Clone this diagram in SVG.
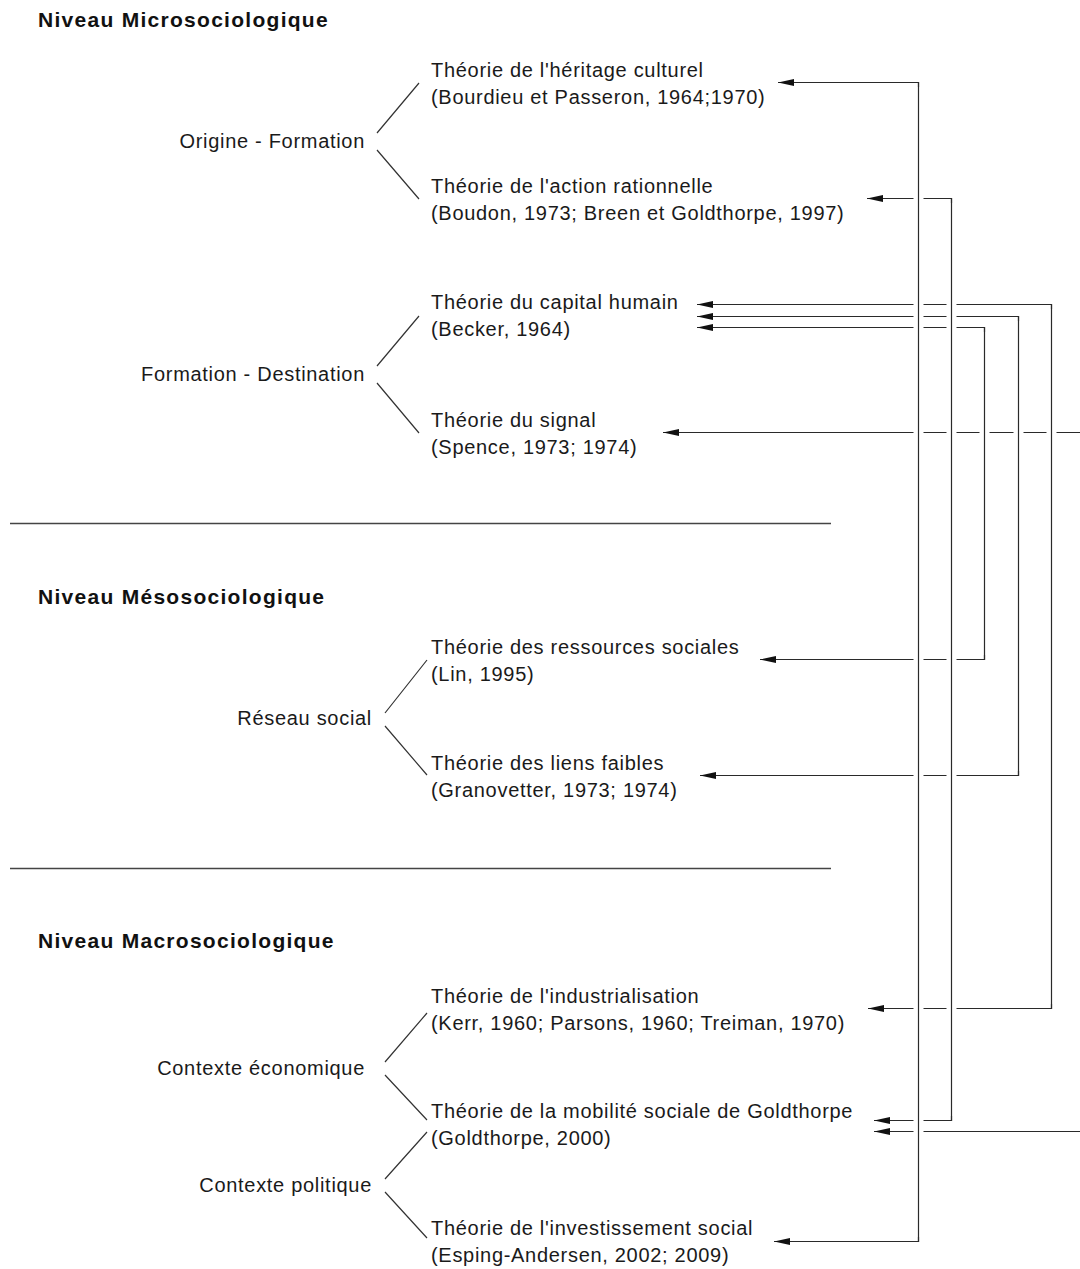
<svg xmlns="http://www.w3.org/2000/svg" width="1080" height="1269" viewBox="0 0 1080 1269">
<style>
  .t { font-family: "Liberation Sans", Arial, sans-serif; font-size: 20px; letter-spacing: 0.7px; fill: #1a1a1a; }
  .lbl { text-anchor: end; }
  .h { font-family: "Liberation Sans", Arial, sans-serif; font-size: 21px; font-weight: bold; letter-spacing: 1.28px; fill: #111; }
  .br { stroke: #333; stroke-width: 1.2; fill: none; }
  .sep { stroke: #444; stroke-width: 1.3; fill: none; }
  .c { stroke: #2a2a2a; stroke-width: 1.2; fill: none; }
  .halo { stroke: #fff; stroke-width: 10; fill: none; }
</style>
<defs>
  <marker id="arr" viewBox="0 0 16 7" refX="16" refY="3.5" markerWidth="16" markerHeight="7" markerUnits="userSpaceOnUse" orient="auto-start-reverse">
    <path d="M0,0 L16,3.5 L0,7 z" fill="#111"/>
  </marker>
</defs>
<rect width="1080" height="1269" fill="#fff"/>

<g id="levels">
  <text class="h" x="38" y="27">Niveau Microsociologique</text>
  <text class="h" x="38" y="604">Niveau Mésosociologique</text>
  <text class="h" x="38" y="948">Niveau Macrosociologique</text>
  <line class="sep" x1="10" y1="523.5" x2="831" y2="523.5"/>
  <line class="sep" x1="10" y1="868.5" x2="831" y2="868.5"/>
</g>

<g id="origine-formation">
  <text class="t lbl" x="365" y="148">Origine - Formation</text>
  <path class="br" d="M377,133 L419,83 M377,150 L419,199"/>
</g>
<g id="formation-destination">
  <text class="t lbl" x="365" y="381">Formation - Destination</text>
  <path class="br" d="M377,366 L419,316 M377,383 L419,433"/>
</g>
<g id="reseau-social">
  <text class="t lbl" x="372" y="725">Réseau social</text>
  <path class="br" d="M385,713 L427,660 M385,726 L427,775"/>
</g>
<g id="contexte-economique">
  <text class="t lbl" x="365" y="1075">Contexte économique</text>
  <path class="br" d="M385,1062 L427,1013 M385,1075 L427,1120"/>
</g>
<g id="contexte-politique">
  <text class="t lbl" x="372" y="1192">Contexte politique</text>
  <path class="br" d="M385,1179 L427,1132 M385,1192 L427,1238"/>
</g>

<g id="heritage-culturel">
  <text class="t" x="431" y="77">Théorie de l'héritage culturel</text>
  <text class="t" x="431" y="104">(Bourdieu et Passeron, 1964;1970)</text>
</g>
<g id="action-rationnelle">
  <text class="t" x="431" y="193">Théorie de l'action rationnelle</text>
  <text class="t" x="431" y="220">(Boudon, 1973; Breen et Goldthorpe, 1997)</text>
</g>
<g id="capital-humain">
  <text class="t" x="431" y="309">Théorie du capital humain</text>
  <text class="t" x="431" y="336">(Becker, 1964)</text>
</g>
<g id="signal">
  <text class="t" x="431" y="427">Théorie du signal</text>
  <text class="t" x="431" y="454">(Spence, 1973; 1974)</text>
</g>
<g id="ressources-sociales">
  <text class="t" x="431" y="654">Théorie des ressources sociales</text>
  <text class="t" x="431" y="681">(Lin, 1995)</text>
</g>
<g id="liens-faibles">
  <text class="t" x="431" y="770">Théorie des liens faibles</text>
  <text class="t" x="431" y="797">(Granovetter, 1973; 1974)</text>
</g>
<g id="industrialisation">
  <text class="t" x="431" y="1003">Théorie de l'industrialisation</text>
  <text class="t" x="431" y="1030">(Kerr, 1960; Parsons, 1960; Treiman, 1970)</text>
</g>
<g id="mobilite-sociale">
  <text class="t" x="431" y="1118">Théorie de la mobilité sociale de Goldthorpe</text>
  <text class="t" x="431" y="1145">(Goldthorpe, 2000)</text>
</g>
<g id="investissement-social">
  <text class="t" x="431" y="1235">Théorie de l'investissement social</text>
  <text class="t" x="431" y="1262">(Esping-Andersen, 2002; 2009)</text>
</g>

<g id="connectors">
  <path class="c" d="M778,82.5 H918.5 V1241.5 H774" marker-start="url(#arr)" marker-end="url(#arr)"/>
  <path class="c" d="M867,198.5 H951.5 V1120.5 H874" marker-start="url(#arr)" marker-end="url(#arr)"/>
  <path class="c" d="M697,304.5 H1051.5 V1008.5 H868" marker-start="url(#arr)" marker-end="url(#arr)"/>
  <path class="c" d="M697,316.5 H1018.5 V775.5 H700" marker-start="url(#arr)" marker-end="url(#arr)"/>
  <path class="c" d="M697,327.5 H984.5 V659.5 H760" marker-start="url(#arr)" marker-end="url(#arr)"/>
  <path class="c" d="M1080,432.5 H663" marker-end="url(#arr)"/>
  <path class="c" d="M1080,1131.5 H874" marker-end="url(#arr)"/>
  <g id="crossings">
    <line class="halo" x1="918.5" y1="87" x2="918.5" y2="1237"/>
    <line class="halo" x1="951.5" y1="203" x2="951.5" y2="1116"/>
    <line class="halo" x1="984.5" y1="332" x2="984.5" y2="655"/>
    <line class="halo" x1="1018.5" y1="321" x2="1018.5" y2="771"/>
    <line class="halo" x1="1051.5" y1="309" x2="1051.5" y2="1004"/>
    <path class="c" d="M918.5,82 V1242 M951.5,198 V1121 M984.5,327 V660 M1018.5,316 V776 M1051.5,304 V1009"/>
  </g>
</g>
</svg>
